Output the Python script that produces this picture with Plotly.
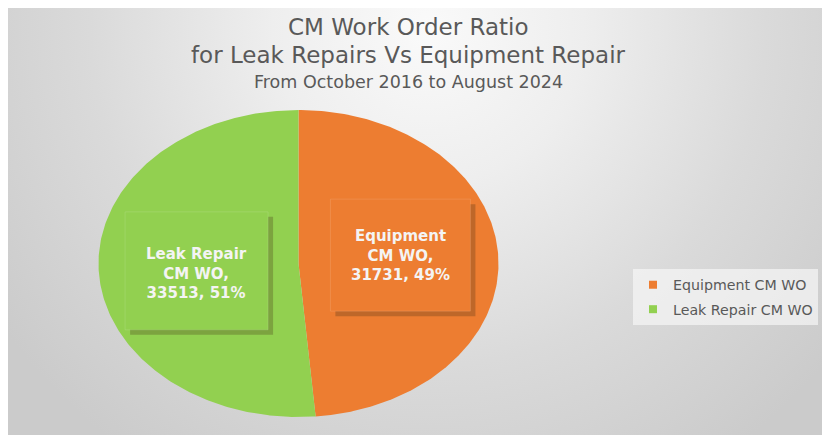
import base64
import numpy as np
import plotly.graph_objects as go

# ---- data ----
categories = ["Equipment CM WO", "Leak Repair CM WO"]
values = [31731, 33513]
label_names = ["Equipment<br>CM WO,", "Leak Repair<br>CM WO,"]
colors = ["#ED7D31", "#92D050"]
title_lines = ["CM Work Order Ratio", "for Leak Repairs Vs Equipment Repair"]
subtitle = "From October 2016 to August 2024"

# the page body adds an 8px margin, so the figure is 822x427
W, H = 822, 427
OFF = 8
# pie geometry in figure pixels (ellipse, as the reference is stretched)
cx_px, cy_px, rx_px, ry_px = 298.5 - OFF, 263.5 - OFF, 200.0, 153.5

total = float(sum(values))
fracs = [v / total for v in values]
pcts = [round(f * 100) for f in fracs]

fig = go.Figure()

start = 90.0  # 12 o'clock, clockwise
mids = []
for name, v, f, col in zip(categories, values, fracs, colors):
    sweep = 360.0 * f
    th = np.radians(np.linspace(start, start - sweep, 240))
    xs = np.concatenate([[0.0], np.cos(th), [0.0]])
    ys = np.concatenate([[0.0], np.sin(th), [0.0]])
    fig.add_trace(go.Scatter(
        x=xs, y=ys, mode="lines", fill="toself", fillcolor=col,
        line=dict(width=0, color=col), name=name, showlegend=False,
        hoverinfo="text", text=f"{name}: {v} ({f*100:.0f}%)",
    ))
    mids.append(np.radians(start - sweep / 2))
    start -= sweep

# legend entries (square markers)
for i, (name, col) in enumerate(zip(categories, colors)):
    fig.add_trace(go.Scatter(
        x=[None], y=[None], mode="markers", name=name, legendgroup=str(i),
        marker=dict(symbol="square", size=8, color=col), showlegend=True,
    ))

# data labels (callout boxes with shadow)
r_lab = 0.51
box_w = [140, 143]
box_h = [112, 118]
box_dy = [5, -4]
text_dy = [0, -3]
for i, (lbl, v, p, mid) in enumerate(zip(label_names, values, pcts, mids)):
    lx, ly = r_lab * np.cos(mid), r_lab * np.sin(mid)
    hw, hh, dy = box_w[i] / 2, box_h[i] / 2, box_dy[i]
    base = dict(type="rect", xref="x", yref="y", xsizemode="pixel", ysizemode="pixel",
                xanchor=lx, yanchor=ly, layer="above")
    # shadow
    fig.add_shape(x0=-hw + 5, x1=hw + 5, y0=-hh + dy - 5, y1=hh + dy - 5,
                  fillcolor="rgba(70,45,20,0.28)", line=dict(width=0), **base)
    # box
    fig.add_shape(x0=-hw, x1=hw, y0=-hh + dy, y1=hh + dy,
                  fillcolor=colors[i], line=dict(width=1, color="rgba(255,255,255,0.12)"), **base)
    txt = f"<b>{lbl}<br>{v}, {p}%</b>"
    fig.add_annotation(text=txt, x=lx, y=ly, xref="x", yref="y", showarrow=False,
                       align="center", yshift=dy + text_dy[i],
                       font=dict(color="#F4F4F4", size=15, family="DejaVu Sans"))

# title lines
title_font = dict(family="DejaVu Sans", color="#595959")
for txt, ypx, size in [(title_lines[0], 27, 23), (title_lines[1], 55, 23), (subtitle, 82, 17.5)]:
    fig.add_annotation(text=txt, x=(408 - OFF) / W, y=1 - (ypx - OFF) / H,
                       xref="paper", yref="paper", xanchor="center", yanchor="middle",
                       showarrow=False, font=dict(size=size, **title_font))

# background gradient (SVG data URI)
svg = (
    f"<svg xmlns='http://www.w3.org/2000/svg' width='{W}' height='{H}' viewBox='0 0 {W} {H}' preserveAspectRatio='none'>"
    "<defs><radialGradient id='g' cx='420' cy='20' r='520' gradientUnits='userSpaceOnUse'>"
    "<stop offset='0' stop-color='#fafafa'/><stop offset='0.3' stop-color='#eeeeee'/>"
    "<stop offset='0.65' stop-color='#dadada'/><stop offset='1' stop-color='#cbcbcb'/>"
    f"</radialGradient></defs><rect width='{W}' height='{H}' fill='url(#g)'/></svg>"
)
src = "data:image/svg+xml;base64," + base64.b64encode(svg.encode()).decode()

x_rng = [(0 - cx_px) / rx_px, (W - cx_px) / rx_px]
y_rng = [(cy_px - H) / ry_px, (cy_px - 0) / ry_px]

fig.update_layout(
    width=W, height=H,
    margin=dict(l=0, r=0, t=0, b=0),
    paper_bgcolor="#dddddd",
    plot_bgcolor="rgba(0,0,0,0)",
    images=[dict(source=src, xref="paper", yref="paper", x=0, y=1,
                 sizex=1, sizey=1, xanchor="left", yanchor="top",
                 sizing="stretch", layer="below")],
    xaxis=dict(range=x_rng, visible=False, fixedrange=True),
    yaxis=dict(range=y_rng, visible=False, fixedrange=True),
    legend=dict(
        x=(633 - OFF) / W, y=1 - (269 - OFF) / H, xanchor="left", yanchor="top",
        bgcolor="rgba(246,246,246,0.7)",
        font=dict(family="DejaVu Sans", size=14.2, color="#595959"),
        traceorder="grouped", tracegroupgap=3,
    ),
    showlegend=True,
)

fig.write_html("out.html")
